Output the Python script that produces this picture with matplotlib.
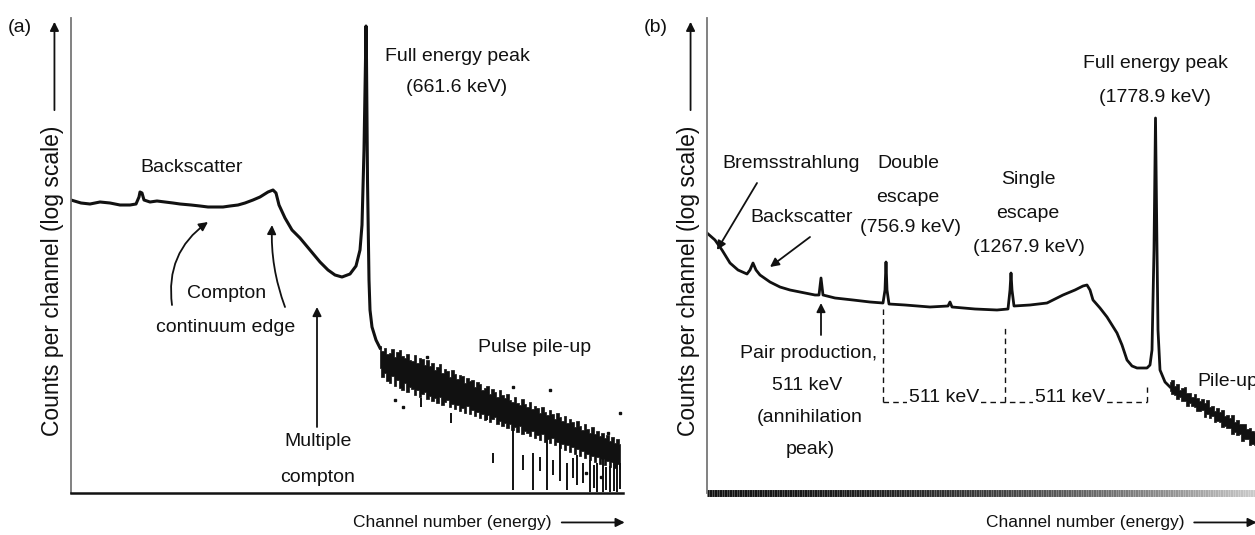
import numpy as np
import matplotlib.pyplot as plt
from matplotlib.collections import LineCollection

# ---- panel (a): channel vs log10(counts per channel) ----
a_ch = [0, 20, 38, 58, 78, 98, 118, 130, 136, 138, 142, 146, 158, 172, 188, 204, 218, 240,
        258, 274, 288, 304, 318, 334, 348, 364, 378, 394, 404, 410, 416, 428, 442, 458,
        478, 498, 514, 528, 542, 558, 570, 578, 582, 586, 589, 590, 591, 593, 596, 598,
        602, 610, 618]
a_lg = [2.93, 2.90, 2.89, 2.91, 2.90, 2.88, 2.88, 2.89, 2.96, 3.01, 3.00, 2.93, 2.91, 2.92,
        2.91, 2.90, 2.89, 2.88, 2.87, 2.86, 2.86, 2.86, 2.87, 2.88, 2.90, 2.93, 2.96, 3.01,
        3.03, 3.00, 2.88, 2.75, 2.63, 2.55, 2.43, 2.31, 2.23, 2.18, 2.16, 2.19, 2.27, 2.43,
        2.68, 3.43, 4.33, 4.67, 4.33, 3.13, 2.13, 1.83, 1.66, 1.53, 1.45]

# pulse pile-up band, upper / lower edge every 5 channels (618 .. 1098)
a_band_ch = np.arange(618, 1099, 5)
a_band_top = [1.47, 1.42, 1.45, 1.39, 1.40, 1.44, 1.36, 1.41, 1.43, 1.37,
              1.35, 1.39, 1.33, 1.32, 1.38, 1.30, 1.35, 1.34, 1.28, 1.33,
              1.27, 1.30, 1.23, 1.26, 1.29, 1.20, 1.24, 1.22, 1.16, 1.23,
              1.19, 1.14, 1.18, 1.17, 1.10, 1.15, 1.12, 1.13, 1.06, 1.11,
              1.09, 1.03, 1.05, 1.07, 0.99, 1.04, 1.01, 0.96, 1.03, 0.98,
              0.95, 0.99, 0.93, 0.91, 0.96, 0.90, 0.88, 0.94, 0.89, 0.86,
              0.91, 0.84, 0.87, 0.85, 0.80, 0.86, 0.81, 0.78, 0.83, 0.79,
              0.74, 0.80, 0.76, 0.72, 0.77, 0.70, 0.74, 0.71, 0.66, 0.72,
              0.67, 0.63, 0.69, 0.64, 0.60, 0.66, 0.59, 0.62, 0.57, 0.60,
              0.55, 0.58, 0.52, 0.56, 0.50, 0.54, 0.49]
a_band_bot = [1.25, 1.16, 1.20, 1.12, 1.10, 1.17, 1.07, 1.13, 1.05, 1.03,
              1.10, 1.01, 1.06, 1.04, 0.98, 1.03, 0.96, 0.99, 1.01, 0.94,
              0.97, 0.92, 0.95, 0.90, 0.96, 0.88, 0.91, 0.93, 0.86, 0.89,
              0.84, 0.88, 0.82, 0.85, 0.80, 0.87, 0.79, 0.83, 0.77, 0.81,
              0.75, 0.79, 0.73, 0.78, 0.71, 0.74, 0.76, 0.69, 0.72, 0.67,
              0.70, 0.65, 0.69, 0.63, 0.66, 0.61, 0.67, 0.59, 0.62, 0.60,
              0.57, 0.62, 0.55, 0.58, 0.53, 0.59, 0.51, 0.54, 0.50, 0.55,
              0.48, 0.51, 0.45, 0.49, 0.43, 0.48, 0.41, 0.46, 0.39, 0.44,
              0.37, 0.42, 0.35, 0.39, 0.33, 0.37, 0.31, 0.36, 0.29, 0.34,
              0.28, 0.32, 0.26, 0.31, 0.25, 0.29, 0.24]
a_streak_ch = [700, 760, 832, 844, 884, 904, 924, 938, 952, 964, 978, 992, 1004, 1012, 1024,
               1038, 1046, 1052, 1064, 1070, 1078, 1086, 1092, 1098]
a_streak_top = [0.95, 0.80, 0.90, 0.40, 0.63, 0.38, 0.40, 0.36, 0.66, 0.33, 0.60, 0.30, 0.35,
                0.38, 0.30, 0.33, 0.28, 0.30, 0.38, 0.26, 0.27, 0.35, 0.43, 0.30]
a_streak_bot = [0.86, 0.70, 0.73, 0.30, 0.03, 0.23, 0.03, 0.22, 0.03, 0.18, 0.12, 0.03, 0.15,
                0.08, 0.10, 0.01, 0.05, 0.01, 0.01, 0.03, 0.01, 0.02, 0.01, 0.04]
a_speck_ch = [712, 664, 648, 884, 958, 1098, 1074, 1030, 1060]
a_speck_lg = [1.36, 0.86, 0.93, 1.06, 1.03, 0.80, 0.60, 0.20, 0.16]

# ---- panel (b) ----
b_ch = [0, 16, 30, 46, 62, 80, 86, 92, 98, 106, 126, 146, 166, 186, 216, 224, 228, 232, 256,
        292, 326, 352, 356, 358, 360, 364, 396, 446, 482, 486, 490, 536, 580, 602, 606, 608,
        610, 614, 646, 680, 712, 736, 752, 760, 766, 772, 786, 800, 820, 830, 840, 850, 860,
        880, 886, 890, 894, 897, 900, 902, 906, 916, 926]
b_lg = [2.60, 2.53, 2.43, 2.30, 2.23, 2.19, 2.23, 2.30, 2.23, 2.18, 2.11, 2.06, 2.03, 2.01,
        1.98, 1.98, 2.15, 1.98, 1.95, 1.93, 1.91, 1.90, 2.03, 2.31, 2.03, 1.89, 1.88, 1.86,
        1.87, 1.91, 1.86, 1.84, 1.83, 1.84, 2.03, 2.20, 2.03, 1.87, 1.88, 1.90, 1.98, 2.03,
        2.07, 2.08, 2.03, 1.93, 1.85, 1.76, 1.60, 1.48, 1.33, 1.27, 1.25, 1.25, 1.28, 1.43,
        2.43, 3.75, 2.43, 1.63, 1.23, 1.11, 1.06]
# pile-up tail, every 5 channels (926 .. 1096)
b_band_ch = np.arange(926, 1097, 5)
b_band_top = [1.11, 1.13, 1.07, 1.09, 1.03, 1.05, 1.06, 1.00, 1.00, 0.96, 0.99, 0.95, 0.92,
              0.94, 0.90, 0.93, 0.86, 0.87, 0.82, 0.85, 0.81, 0.83, 0.77, 0.78, 0.75, 0.78,
              0.71, 0.73, 0.69, 0.69, 0.69, 0.64, 0.65, 0.62, 0.61]
b_band_bot = [1.02, 0.99, 0.98, 0.94, 0.96, 0.92, 0.92, 0.87, 0.90, 0.87, 0.86, 0.82, 0.82,
              0.83, 0.76, 0.79, 0.75, 0.77, 0.71, 0.72, 0.71, 0.66, 0.67, 0.65, 0.65, 0.59,
              0.61, 0.58, 0.59, 0.52, 0.54, 0.54, 0.48, 0.49, 0.48]

# escape peak markers (channel, top of dashed line) and the 511 keV level
b_marks_ch = [352, 596, 880]
b_marks_top = [1.88, 1.68, 1.06]
b_level = 0.91

FONT = 'Liberation Sans'
FS = 14
INK = '#111111'


def lbl(ax, x, lg, s, **kw):
    kw.setdefault('ha', 'center')
    kw.setdefault('va', 'center')
    ax.text(x, 10 ** lg, s, fontsize=FS, family=FONT, color=INK, **kw)


def arrow(ax, tail, head, rad=0.0):
    ax.annotate('', xy=(head[0], 10 ** head[1]), xytext=(tail[0], 10 ** tail[1]),
                arrowprops=dict(arrowstyle='-|>', color=INK, lw=1.3, mutation_scale=13,
                                shrinkA=0, shrinkB=0,
                                connectionstyle='arc3,rad=%.2f' % rad))


def noisy(ax, ch, lo, hi):
    # jagged, histogram-like band for the noisy high-energy tail
    ax.fill_between(ch, 10 ** np.array(lo), 10 ** np.array(hi), step='mid',
                    color=INK, lw=0.5)


def frame(ax, xmax, tag):
    ax.set_yscale('log')
    ax.set_xlim(0, xmax)
    ax.set_ylim(1, 10 ** 4.75)
    ax.set_xticks([])
    ax.set_yticks([])
    ax.minorticks_off()
    for s in ('top', 'right'):
        ax.spines[s].set_visible(False)
    ax.spines['left'].set_color('#777777')
    ax.spines['left'].set_linewidth(1.3)
    ax.spines['bottom'].set_color(INK)
    ax.spines['bottom'].set_linewidth(1.8)
    ax.text(-0.034, 0.446, 'Counts per channel (log scale)', transform=ax.transAxes,
            rotation=90, ha='center', va='center', fontsize=16.5, family=FONT, color=INK)
    ax.annotate('', xy=(-0.03, 0.992), xytext=(-0.03, 0.806), xycoords='axes fraction',
                arrowprops=dict(arrowstyle='-|>', color=INK, lw=1.3, mutation_scale=13,
                                shrinkA=0, shrinkB=0), annotation_clip=False)
    ax.text(-0.093, 0.981, tag, transform=ax.transAxes, ha='center', va='center',
            fontsize=FS, family=FONT, color=INK)
    ax.text(0.69, -0.062, 'Channel number (energy)', transform=ax.transAxes,
            ha='center', va='center', fontsize=12.5, family=FONT, color=INK)
    ax.annotate('', xy=(1.003, -0.062), xytext=(0.889, -0.062), xycoords='axes fraction',
                arrowprops=dict(arrowstyle='-|>', color=INK, lw=1.3, mutation_scale=13,
                                shrinkA=0, shrinkB=0), annotation_clip=False)


fig = plt.figure(figsize=(12.55, 5.35), dpi=100)
ax1 = fig.add_axes([71 / 1255, 42 / 535, 552 / 1255, 475 / 535])
ax2 = fig.add_axes([707 / 1255, 42 / 535, 548 / 1255, 475 / 535])

# ---- (a) ----
frame(ax1, 1104, '(a)')
ax1.plot(a_ch, 10 ** np.array(a_lg), color=INK, lw=2.2, solid_joinstyle='round')
noisy(ax1, a_band_ch, a_band_bot, a_band_top)
ax1.vlines(a_streak_ch, 10 ** np.array(a_streak_bot), 10 ** np.array(a_streak_top),
           color=INK, lw=1.4)
ax1.plot(a_speck_ch, 10 ** np.array(a_speck_lg), 's', color=INK, ms=2)

lbl(ax1, 242, 3.25, 'Backscatter')
lbl(ax1, 772, 4.36, 'Full energy peak')
lbl(ax1, 772, 4.05, '(661.6 keV)')
lbl(ax1, 312, 2.00, 'Compton')
lbl(ax1, 310, 1.65, 'continuum edge')
lbl(ax1, 494, 0.51, 'Multiple')
lbl(ax1, 494, 0.16, 'compton')
lbl(ax1, 928, 1.45, 'Pulse pile-up')
arrow(ax1, (202, 1.88), (274, 2.71), rad=-0.3)
arrow(ax1, (428, 1.86), (402, 2.68), rad=-0.1)
arrow(ax1, (492, 0.66), (492, 1.86))

# ---- (b) ----
frame(ax2, 1096, '(b)')
ax2.spines['bottom'].set_visible(False)
xs = np.linspace(0, 1, 221)
segs = [[(xs[i], 0), (xs[i + 1], 0)] for i in range(len(xs) - 1)]
shade = 0.08 + 0.72 * xs[:-1] ** 2.2
ax2.add_collection(LineCollection(segs, colors=[(s, s, s) for s in shade], linewidths=5,
                                  transform=ax2.transAxes, clip_on=False))
ax2.plot(b_ch, 10 ** np.array(b_lg), color=INK, lw=2.0, solid_joinstyle='round')
noisy(ax2, b_band_ch, b_band_bot, b_band_top)

dash = dict(color=INK, lw=1.0, ls=(0, (4, 3)))
for c, t in zip(b_marks_ch, b_marks_top):
    ax2.plot([c, c], [10 ** b_level, 10 ** t], **dash)
ax2.plot([b_marks_ch[0], b_marks_ch[-1]], [10 ** b_level] * 2, **dash)

lbl(ax2, 168, 3.30, 'Bremsstrahlung')
lbl(ax2, 402, 3.30, 'Double')
lbl(ax2, 402, 2.96, 'escape')
lbl(ax2, 406, 2.66, '(756.9 keV)')
lbl(ax2, 190, 2.75, 'Backscatter')
lbl(ax2, 642, 3.13, 'Single')
lbl(ax2, 642, 2.80, 'escape')
lbl(ax2, 644, 2.46, '(1267.9 keV)')
lbl(ax2, 896, 4.30, 'Full energy peak')
lbl(ax2, 896, 3.96, '(1778.9 keV)')
lbl(ax2, 204, 1.40, 'Pair production,')
lbl(ax2, 200, 1.08, '511 keV')
lbl(ax2, 206, 0.76, '(annihilation')
lbl(ax2, 206, 0.43, 'peak)')
for c in (474, 726):
    lbl(ax2, c, b_level, '511 keV', va='baseline',
        bbox=dict(fc='white', ec='none', pad=1.5))
lbl(ax2, 980, 1.11, 'Pile-up', ha='left', clip_on=False)
arrow(ax2, (100, 3.10), (20, 2.43))
arrow(ax2, (206, 2.56), (126, 2.26))
arrow(ax2, (228, 1.58), (228, 1.90))

fig.savefig('out.png', dpi=100)
